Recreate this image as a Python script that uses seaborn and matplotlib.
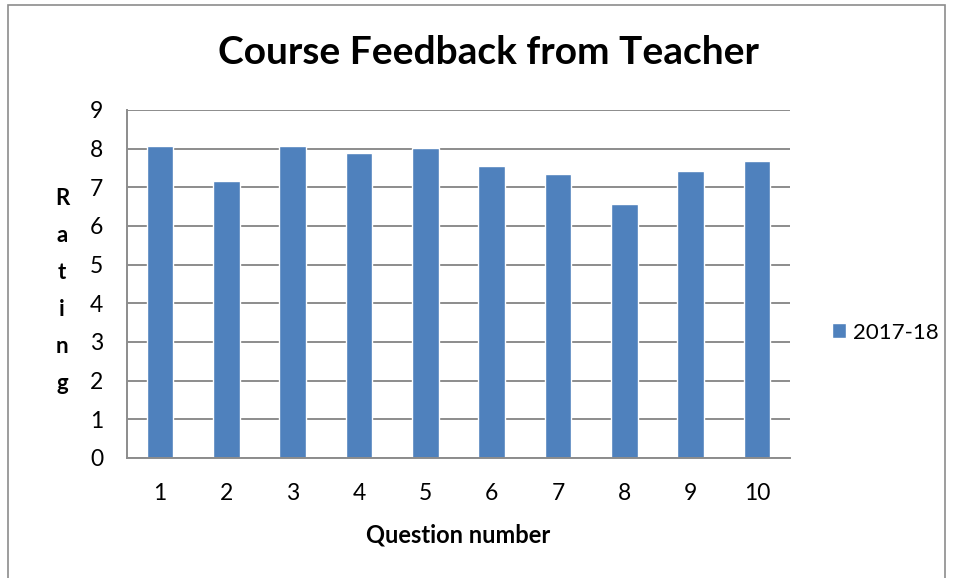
import numpy as np
import pandas as pd
import matplotlib
matplotlib.use("Agg")
import matplotlib.pyplot as plt
from matplotlib.patches import Rectangle
import seaborn as sns

# ── Data ────────────────────────────────────────────────────────────────
questions = ['1', '2', '3', '4', '5', '6', '7', '8', '9', '10']
ratings = [8.06, 7.17, 8.06, 7.90, 8.01, 7.56, 7.34, 6.57, 7.41, 7.67]
series_name = '2017-18'
yticks = [0, 1, 2, 3, 4, 5, 6, 7, 8, 9]

df = pd.DataFrame({'Question': questions, 'Rating': ratings,
                   'Year': [series_name] * len(questions)})

sns.set_theme(style='white')
plt.rcParams['font.family'] = ['Lato', 'DejaVu Sans']
plt.rcParams['text.color'] = 'black'
plt.rcParams['xtick.labelcolor'] = 'black'
plt.rcParams['ytick.labelcolor'] = 'black'
plt.rcParams['axes.labelcolor'] = 'black'

fig = plt.figure(figsize=(9.58, 5.78), dpi=100)
ax = fig.add_axes([127 / 958, 1 - 458 / 578, (790 - 127) / 958, (458 - 110) / 578])

sns.barplot(data=df, x='Question', y='Rating', hue='Year',
            palette=['#4F81BD'], width=0.4, ax=ax, saturation=1)

grid_c = '#8C8C8C'
ax.set_ylim(0, 9)
ax.set_xlim(-0.5, len(questions) - 0.5)
ax.set_yticks(yticks)
ax.yaxis.grid(True, color=grid_c, linewidth=1.4)
ax.set_axisbelow(True)
for s in ['top', 'right']:
    ax.spines[s].set_visible(False)
for s in ['left', 'bottom']:
    ax.spines[s].set_color(grid_c)
    ax.spines[s].set_linewidth(1.4)

ax.tick_params(axis='y', length=7, width=1.4, color=grid_c, labelsize=16.5, pad=10)
ax.tick_params(axis='x', which='major', length=0, labelsize=16.5, pad=18)
ax.set_xticks(np.arange(-0.5, len(questions), 1.0), minor=True)
ax.tick_params(axis='x', which='minor', length=7, width=1.4, color=grid_c)

ax.set_xlabel('Question number', fontsize=17, fontweight='bold', labelpad=14)
ax.set_ylabel('R\na\nt\ni\nn\ng', fontsize=16, fontweight='bold',
              rotation=0, linespacing=1.95, va='center')
ax.yaxis.set_label_coords(-0.098, 0.48)

fig.suptitle('Course Feedback from Teacher', fontsize=28, fontweight='bold',
             x=488 / 958, y=1 - 53 / 578, va='center')

leg = ax.legend(loc='center left', bbox_to_anchor=(1.033, 0.36), frameon=False,
                fontsize=16, handlelength=0.65, handleheight=0.65, handletextpad=0.3)

fig.patches.append(Rectangle((8 / 958, -0.05), (945 - 8) / 958, 1 - 5 / 578 + 0.05,
                             transform=fig.transFigure, fill=False,
                             edgecolor='#8C8C8C', linewidth=1.2))

fig.savefig('out.png', dpi=100)
